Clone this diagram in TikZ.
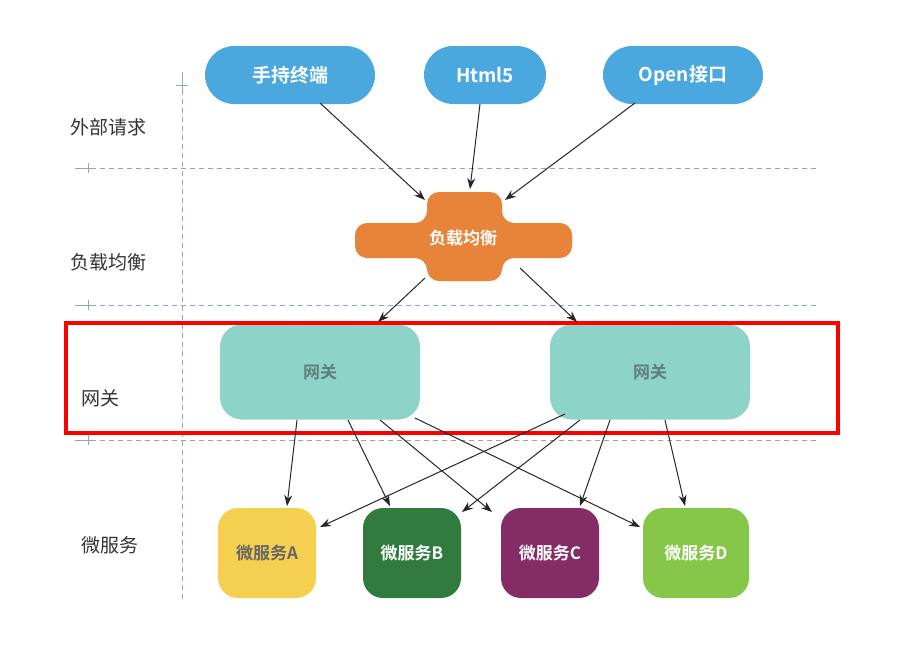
\documentclass[tikz,border=0pt]{standalone}
\usepackage{fontspec}
\newfontfamily\cjk{Noto Sans CJK SC}
\newfontfamily\cjkb{Noto Sans CJK SC Bold}
\usetikzlibrary{arrows.meta,calc}
\definecolor{pillblue}{HTML}{4AA8DE}
\definecolor{lborange}{HTML}{E8843A}
\definecolor{gwteal}{HTML}{8ED3C8}
\definecolor{msA}{HTML}{F5CF50}
\definecolor{msB}{HTML}{317B3F}
\definecolor{msC}{HTML}{852B65}
\definecolor{msD}{HTML}{86C749}
\definecolor{guide}{HTML}{8AA8C0}
\definecolor{lbltext}{HTML}{333333}
\definecolor{gwtext}{HTML}{5E7F7A}
\begin{document}
\begin{tikzpicture}[x=1pt,y=-1pt,
  pill/.style={fill=pillblue,rounded corners=29pt,minimum height=58pt,text=white,font=\cjkb\fontsize{19}{19}\selectfont,inner sep=0pt},
  gw/.style={fill=gwteal,rounded corners=22pt,minimum width=200pt,minimum height=95pt,text=gwtext,font=\cjkb\fontsize{17}{17}\selectfont},
  ms/.style={rounded corners=20pt,minimum width=98pt,minimum height=90pt,font=\cjkb\fontsize{17}{17}\selectfont,inner sep=0pt},
  lbl/.style={text=lbltext,font=\cjk\fontsize{19}{19}\selectfont},
  guideline/.style={draw=guide,line width=0.9pt,dash pattern=on 5pt off 4pt},
  tickline/.style={draw=guide,line width=0.9pt},
  conn/.style={draw=black!85,line width=1pt,-{Stealth[length=11pt,width=8pt]}}]
\useasboundingbox (0,0) rectangle (917,651);
% guides
\coordinate (vtop) at (182,72);
\coordinate (vbot) at (182,600);
\path[guideline] (182,90) -- (vbot);
\path[tickline] (vtop) -- (182,90) (176,85) -- (188,85);
\foreach \yy in {168,305,440}{
  \path[tickline] (75,\yy) -- (96,\yy) (88,\yy-5) -- (88,\yy+5);
  \path[guideline] (100,\yy) -- (820,\yy);
}
% left labels
\node[lbl] (l1) at (108,127) {外部请求};
\node[lbl] (l2) at (108,262) {负载均衡};
\node[lbl] (l3) at (100,398) {网关};
\node[lbl] (l4) at (110,545) {微服务};
% top pills
\node[pill,minimum width=170pt] (p1) at (290,75) {手持终端};
\node[pill,minimum width=122pt] (p2) at (485,75) {Html5};
\node[pill,minimum width=160pt] (p3) at (683,75) {Open接口};
% load balancer cross
\fill[lborange,rounded corners=12pt] (427,192) -- (502,192) -- (502,223) -- (572,223) -- (572,258) -- (502,258) -- (502,281) -- (427,281) -- (427,258) -- (355,258) -- (355,223) -- (427,223) -- cycle;
\node[text=white,font=\cjkb\fontsize{17}{17}\selectfont,minimum width=150pt,minimum height=90pt] (lb) at (463,238) {负载均衡};
% gateways
\node[gw] (g1) at (320,372) {网关};
\node[gw] (g2) at (650,372) {网关};
% red frame
\draw[red,line width=4.5pt] (66,323) rectangle (838,433);
% microservices
\node[ms,fill=msA,text=black!60] (ma) at (267,553) {微服务A};
\node[ms,fill=msB,text=white] (mb) at (412,553) {微服务B};
\node[ms,fill=msC,text=white] (mc) at (550,553) {微服务C};
\node[ms,fill=msD,text=white,minimum width=106pt] (md) at (696,553) {微服务D};
% connectors top
\draw[conn] ($(p1.center)+(30,28)$) -- ($(lb.center)+(-38,-38)$);
\draw[conn] ($(p2.center)+(-5,29)$) -- ($(lb.center)+(7,-49)$);
\draw[conn] ($(p3.center)+(-48,28)$) -- ($(lb.center)+(42,-38)$);
\draw[conn] ($(lb.center)+(-38,40)$) -- ($(g1.center)+(58,-50)$);
\draw[conn] ($(lb.center)+(57,30)$) -- ($(g2.center)+(-73,-50)$);
% connectors bottom
\draw[conn] ($(g1.center)+(-23,48)$) -- ($(ma.center)+(20,-47)$);
\draw[conn] ($(g1.center)+(28,48)$) -- ($(mb.center)+(-22,-47)$);
\draw[conn] ($(g1.center)+(60,48)$) -- ($(mc.center)+(-58,-41)$);
\draw[conn] ($(g1.center)+(95,46)$) -- ($(md.center)+(-56,-26)$);
\draw[conn] ($(g2.center)+(-85,42)$) -- ($(ma.center)+(53,-26)$);
\draw[conn] ($(g2.center)+(-70,48)$) -- ($(mb.center)+(50,-41)$);
\draw[conn] ($(g2.center)+(-40,48)$) -- ($(mc.center)+(30,-47)$);
\draw[conn] ($(g2.center)+(15,48)$) -- ($(md.center)+(-11,-47)$);
\end{tikzpicture}
\end{document}
